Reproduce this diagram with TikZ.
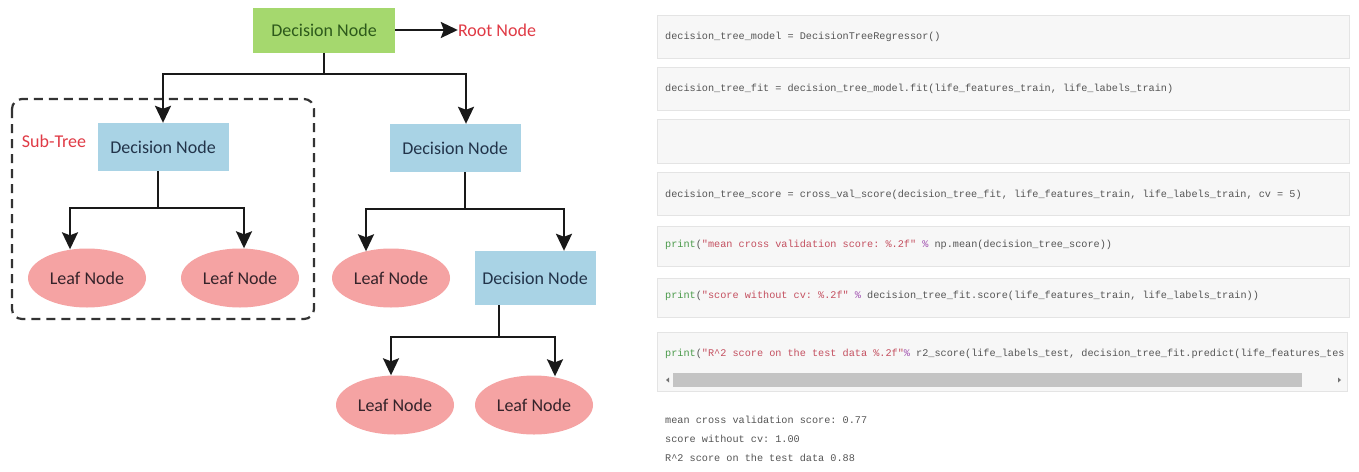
\documentclass[tikz,border=0pt]{standalone}
\usepackage{fontspec}
\setmainfont{Carlito}
\setmonofont{Liberation Mono}
\usetikzlibrary{arrows.meta,shapes.geometric}
\definecolor{rootfill}{HTML}{A5D86E}
\definecolor{roottext}{HTML}{2D5A1B}
\definecolor{decfill}{HTML}{A9D3E5}
\definecolor{dectext}{HTML}{22344A}
\definecolor{leaffill}{HTML}{F5A3A3}
\definecolor{leaftext}{HTML}{35232A}
\definecolor{lblred}{HTML}{E03A45}
\definecolor{cellfill}{HTML}{F7F7F7}
\definecolor{celldraw}{HTML}{E4E4E4}
\definecolor{codetext}{HTML}{555555}
\definecolor{kwgreen}{HTML}{4A9A4A}
\definecolor{strred}{HTML}{C45060}
\definecolor{oppurple}{HTML}{A050B0}
\definecolor{thumb}{HTML}{C4C4C4}
\newcommand\kw[1]{\textcolor{kwgreen}{#1}}
\newcommand\st[1]{\textcolor{strred}{#1}}
\newcommand\op[1]{\textcolor{oppurple}{#1}}
\tikzset{
  treetext/.style={font=\fontsize{18}{20}\selectfont, inner sep=0pt},
  rootbox/.style={treetext, rectangle, fill=rootfill, text=roottext, minimum width=142pt, minimum height=45pt},
  decbox/.style={treetext, rectangle, fill=decfill, text=dectext, minimum width=131pt, minimum height=48pt},
  leafnode/.style={treetext, ellipse, fill=leaffill, text=leaftext, minimum width=118pt, minimum height=59pt},
  redlbl/.style={treetext, text=lblred},
  conn/.style={line width=2.2pt, black!90},
  arr/.style={conn, -{Stealth[length=17pt,width=16pt,inset=3pt]}},
  cell/.style={fill=cellfill, draw=celldraw, line width=0.8pt},
  codeline/.style={anchor=west, inner sep=0pt, text=codetext, font=\ttfamily\fontsize{10.2}{12}\selectfont},
}
\begin{document}
\begin{tikzpicture}[x=1pt,y=-1pt]
\useasboundingbox[fill=white] (0,0) rectangle (1359,471);

% ---------- tree ----------
\draw[line width=2.2pt, color=black!80, dash pattern=on 9pt off 6pt, rounded corners=10pt] (12,99) rectangle (314,319);
\node[redlbl] (sublbl) at (54,141) {Sub-Tree};

\node[rootbox] (root) at (324,30) {Decision Node};
\node[redlbl] (rootlbl) at (497,30) {Root Node};
\draw[arr] (root.east) -- (rootlbl.west);

\node[decbox] (dnL) at (163,147) {Decision Node};
\node[decbox] (dnR) at (455,148) {Decision Node};
\node[leafnode] (leaf1) at (87,278) {Leaf Node};
\node[leafnode] (leaf2) at (240,278) {Leaf Node};
\node[leafnode] (leaf3) at (391,278) {Leaf Node};
\node[decbox, minimum width=121pt, minimum height=54pt] (dn3) at (535,278) {Decision Node};
\node[leafnode] (leaf4) at (395,405) {Leaf Node};
\node[leafnode] (leaf5) at (534,405) {Leaf Node};

% root branches
\draw[conn] (root.south) -- ++(0,21) coordinate (hR0);
\draw[arr] (hR0) -| (dnL.north);
\draw[arr] (hR0) -| ([xshift=11pt]dnR.north);

% left decision branches
\draw[conn] ([xshift=-5pt]dnL.south) -- ++(0,37) coordinate (hL);
\draw[arr] (hL) -| ([xshift=-17pt,yshift=-1pt]leaf1.north);
\draw[arr] (hL) -| ([xshift=4pt]leaf2.north);

% right decision branches
\draw[conn] ([xshift=10pt]dnR.south) -- ++(0,37) coordinate (hR);
\draw[arr] (hR) -| ([xshift=-25pt,yshift=-3pt]leaf3.north);
\draw[arr] (hR) -| ([xshift=29pt]dn3.north);

% third decision branches
\draw[conn] ([xshift=-36pt]dn3.south) -- ++(0,32) coordinate (h3);
\draw[arr] (h3) -| ([xshift=-4pt]leaf4.north);
\draw[arr] (h3) -| ([xshift=21pt,yshift=-1pt]leaf5.north);

% ---------- code panel ----------
\draw[cell] (657,15) rectangle (1349,58);
\node[codeline] (l1) at (665,37) {decision\_tree\_model = DecisionTreeRegressor()};

\draw[cell] (657,67) rectangle (1349,110);
\node[codeline] (l2) at (665,88.5) {decision\_tree\_fit = decision\_tree\_model.fit(life\_features\_train, life\_labels\_train)};

\draw[cell] (657,119) rectangle (1349,163);

\draw[cell] (657,172) rectangle (1349,215);
\node[codeline] (l4) at (665,194.5) {decision\_tree\_score = cross\_val\_score(decision\_tree\_fit, life\_features\_train, life\_labels\_train, cv = 5)};

\draw[cell] (657,226) rectangle (1349,266);
\node[codeline] (l5) at (665,245) {\kw{print}(\st{"mean cross validation score: \%.2f"} \op{\%} np.mean(decision\_tree\_score))};

\draw[cell] (657,278) rectangle (1349,317);
\node[codeline] (l6) at (665,296) {\kw{print}(\st{"score without cv: \%.2f"} \op{\%} decision\_tree\_fit.score(life\_features\_train, life\_labels\_train))};

\draw[cell] (657,332) rectangle (1347,391);
\node[codeline] (l7) at (665,354) {\kw{print}(\st{"R\textasciicircum 2 score on the test data \%.2f"}\op{\%} r2\_score(life\_labels\_test, decision\_tree\_fit.predict(life\_features\_tes};
\fill[thumb] (673,373) rectangle (1302,387);
\fill[black!55] (669,377.5) -- (666,380) -- (669,382.5) -- cycle;
\fill[black!55] (1338,377.5) -- (1341,380) -- (1338,382.5) -- cycle;

\node[codeline] (o1) at (665,420) {mean cross validation score: 0.77};
\node[codeline] (o2) at (665,439) {score without cv: 1.00};
\node[codeline] (o3) at (665,457.5) {R\textasciicircum 2 score on the test data 0.88};
\end{tikzpicture}
\end{document}
